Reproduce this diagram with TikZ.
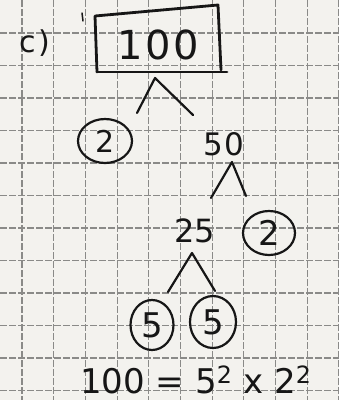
\documentclass[tikz,border=0pt]{standalone}
\usepackage{fontspec}
\setmainfont{DejaVu Sans}
\usetikzlibrary{shapes.geometric}
\definecolor{paper}{HTML}{F3F2EE}
\definecolor{ink}{HTML}{161616}
\definecolor{gridc}{HTML}{8A8A88}
\begin{document}
\begin{tikzpicture}[x=1pt,y=-1pt,
  pen/.style={draw=ink, line width=2.2pt, line cap=round, line join=round},
  gridline/.style={draw=gridc, line width=1.1pt, dash pattern=on 7pt off 2pt},
  hand/.style={text=ink, inner sep=0pt, font=\fontsize{30}{30}\selectfont},
  ring/.style={pen, ellipse, inner sep=0pt, text=ink, font=\fontsize{30}{30}\selectfont}]
\fill[paper] (0,0) rectangle (339,400);
\useasboundingbox (0,0) rectangle (339,400);
% grid paper
\foreach \i in {0,...,10} {\draw[gridline] ({22+31.7*\i},0) -- ({22+31.7*\i},400);}
\foreach \i in {1,...,12} {\draw[gridline] (0,{0.5+32.5*\i}) -- (339,{0.5+32.5*\i});}
% label
\node[hand, font=\fontsize{30}{30}\selectfont\addfontfeature{LetterSpace=10}] (lab) at (35,43) {c)};
\coordinate (tk1) at (82,13); \coordinate (tk2) at (83,21);
\draw[pen, line width=1.5pt] (tk1) -- (tk2);
% boxed 100
\coordinate (b1) at (95,16); \coordinate (b2) at (218,5); \coordinate (b3) at (221,70);
\coordinate (b4) at (97,72); \coordinate (b5) at (227,72);
\draw[pen, line width=2.8pt] (b4) -- (b1) -- (b2) -- (b3);
\draw[pen, line width=2.8pt] (b4) -- (b5);
\node[hand, font=\fontsize{40}{40}\selectfont\addfontfeature{LetterSpace=6}] (n100) at (158,45) {100};
% first split
\coordinate (p1) at (155,78); \coordinate (p1l) at (137,113); \coordinate (p1r) at (193,115);
\draw[pen] (p1l) -- (p1) -- (p1r);
\node[ring, minimum width=54pt, minimum height=44pt] (n2a) at (105,141) {2};
\node[hand, font=\fontsize{31}{31}\selectfont\addfontfeature{LetterSpace=4}] (n50) at (224,144) {50};
% second split
\coordinate (p2) at (232,162); \coordinate (p2l) at (211,198); \coordinate (p2r) at (246,196);
\draw[pen] (p2l) -- (p2) -- (p2r);
\node[hand, font=\fontsize{32}{32}\selectfont] (n25) at (195,231) {25};
\node[ring, minimum width=52pt, minimum height=44pt, font=\fontsize{34}{34}\selectfont] (n2b) at (269,233) {2};
% third split
\coordinate (p3) at (192,253); \coordinate (p3l) at (168,292); \coordinate (p3r) at (215,291);
\draw[pen] (p3l) -- (p3) -- (p3r);
\node[ring, minimum width=43pt, minimum height=50pt, font=\fontsize{34}{34}\selectfont] (n5a) at (152,325) {5};
\node[ring, minimum width=46pt, minimum height=52pt, font=\fontsize{34}{34}\selectfont] (n5b) at (213,322) {5};
% result
\node[hand, font=\fontsize{34}{34}\selectfont, anchor=base west] (eq) at (80,393) {100 = 5\textsuperscript{2} x 2\textsuperscript{2}};
\end{tikzpicture}
\end{document}
